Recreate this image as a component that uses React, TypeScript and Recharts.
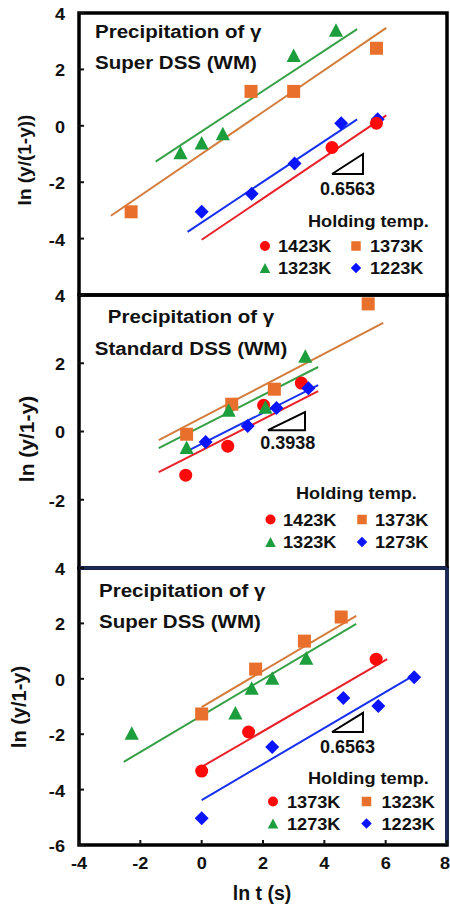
import React from 'react';
import { ScatterChart, Scatter, XAxis, YAxis, ReferenceArea, ReferenceLine } from 'recharts';

type Pt = { x: number; y: number };
type MarkerKind = 'circle' | 'square' | 'triangle' | 'diamond';

// ---------- axis ticks ----------
const X_DOMAIN: [number, number] = [-4, 8];
const xTicks = [-4, -2, 0, 2, 4, 6, 8];
const standardDssBottomTicks = [-2.27, -0.58, 1.15, 2.88, 4.61, 6.3];
const yTicksSuper = [-4, -2, 0, 2, 4];
const yTicksStandard = [-2, 0, 2, 4];
const yTicksSuperBottom = [-6, -4, -2, 0, 2, 4];

// ---------- text ----------
const panelTitles = [
  ['Precipitation of γ', 'Super DSS (WM)'],
  ['Precipitation of γ', 'Standard DSS (WM)'],
  ['Precipitation of γ', 'Super DSS (WM)'],
];
const yAxisTitles = ['ln (y/(1-y))', 'ln (y/1-y)', 'ln (y/1-y)'];
const xAxisTitle = 'ln t (s)';
const legendHeader = 'Holding temp.';
const legendTempsA = ['1423K', '1373K', '1323K', '1223K'];
const legendTempsB = ['1423K', '1373K', '1323K', '1273K'];
const legendTempsC = ['1373K', '1323K', '1273K', '1223K'];
const slopeTexts = ['0.6563', '0.3938', '0.6563'];

// ---------- Super DSS (WM), upper panel ----------
const a1423: Pt[] = [{ x: 4.25, y: -0.77 }, { x: 5.7, y: 0.09 }];
const a1373: Pt[] = [{ x: -2.3, y: -3.05 }, { x: 1.61, y: 1.22 }, { x: 3.0, y: 1.22 }, { x: 5.7, y: 2.75 }];
const a1323: Pt[] = [{ x: -0.69, y: -0.95 }, { x: 0, y: -0.6 }, { x: 0.69, y: -0.27 }, { x: 3.0, y: 2.5 }, { x: 4.38, y: 3.4 }];
const a1223: Pt[] = [{ x: 0, y: -3.05 }, { x: 1.63, y: -2.41 }, { x: 3.03, y: -1.34 }, { x: 4.55, y: 0.09 }, { x: 5.74, y: 0.23 }];
const aFit1423: Pt[] = [{ x: 0, y: -4.04 }, { x: 6.02, y: 0.37 }];
const aFit1373: Pt[] = [{ x: -2.96, y: -3.19 }, { x: 6.02, y: 3.47 }];
const aFit1323: Pt[] = [{ x: -1.5, y: -1.27 }, { x: 5.07, y: 3.43 }];
const aFit1223: Pt[] = [{ x: -0.46, y: -3.76 }, { x: 5.07, y: 0.23 }];
const aSlope: Pt[] = [{ x: 4.25, y: -1.71 }, { x: 5.26, y: -1.71 }, { x: 5.26, y: -1.0 }, { x: 4.25, y: -1.71 }];
const aSlopeLabel: Pt[] = [{ x: 4.755, y: -1.71 }];

// ---------- Standard DSS (WM), middle panel ----------
const b1423: Pt[] = [{ x: -0.52, y: -1.28 }, { x: 0.85, y: -0.43 }, { x: 2.02, y: 0.77 }, { x: 3.25, y: 1.42 }];
const b1373: Pt[] = [{ x: -0.49, y: -0.08 }, { x: 0.98, y: 0.8 }, { x: 2.37, y: 1.24 }, { x: 5.43, y: 3.74 }];
const b1323: Pt[] = [{ x: -0.49, y: -0.46 }, { x: 0.88, y: 0.63 }, { x: 2.08, y: 0.72 }, { x: 3.38, y: 2.21 }];
const b1273: Pt[] = [{ x: 0.13, y: -0.31 }, { x: 1.5, y: 0.16 }, { x: 2.44, y: 0.69 }, { x: 3.48, y: 1.27 }];
const bFit1423: Pt[] = [{ x: -1.4, y: -1.19 }, { x: 3.8, y: 1.18 }];
const bFit1373: Pt[] = [{ x: -1.4, y: -0.25 }, { x: 5.92, y: 3.18 }];
const bFit1323: Pt[] = [{ x: -1.4, y: -0.49 }, { x: 3.8, y: 1.89 }];
const bFit1273: Pt[] = [{ x: -0.52, y: -0.6 }, { x: 3.8, y: 1.36 }];
const bSlope: Pt[] = [{ x: 2.16, y: 0.04 }, { x: 3.37, y: 0.04 }, { x: 3.37, y: 0.57 }, { x: 2.16, y: 0.04 }];
const bSlopeLabel: Pt[] = [{ x: 2.81, y: 0.04 }];

// ---------- Super DSS (WM), lower panel ----------
const c1373: Pt[] = [{ x: 0, y: -3.33 }, { x: 1.53, y: -1.92 }, { x: 5.69, y: 0.71 }];
const c1323: Pt[] = [{ x: 0, y: -1.27 }, { x: 1.76, y: 0.35 }, { x: 3.35, y: 1.36 }, { x: 4.55, y: 2.23 }];
const c1273: Pt[] = [{ x: -2.28, y: -1.96 }, { x: 1.1, y: -1.23 }, { x: 1.63, y: -0.33 }, { x: 2.3, y: 0.03 }, { x: 3.41, y: 0.75 }];
const c1223: Pt[] = [{ x: 0, y: -5.03 }, { x: 2.3, y: -2.46 }, { x: 4.62, y: -0.69 }, { x: 5.76, y: -0.98 }, { x: 6.93, y: 0.06 }];
const cFit1373: Pt[] = [{ x: 0, y: -3.18 }, { x: 6.05, y: 0.71 }];
const cFit1323: Pt[] = [{ x: 0, y: -1.02 }, { x: 5.04, y: 2.27 }];
const cFit1273: Pt[] = [{ x: -2.54, y: -3.0 }, { x: 5.04, y: 1.98 }];
const cFit1223: Pt[] = [{ x: 0, y: -4.38 }, { x: 6.99, y: 0.17 }];
const cSlope: Pt[] = [{ x: 4.25, y: -1.92 }, { x: 5.26, y: -1.92 }, { x: 5.26, y: -1.23 }, { x: 4.25, y: -1.92 }];
const cSlopeLabel: Pt[] = [{ x: 4.755, y: -1.92 }];

// ---------- styling ----------
const FONT = '"Liberation Sans", Arial, Helvetica, sans-serif';
const INK = '#111';
const NAVY = '#1b2a58';
const RED = '#ff0a0a';
const ORANGE = '#e8702c';
const GREEN = '#1c9e3c';
const BLUE = '#0a14ff';
const RED_LINE = '#e82028';
const ORANGE_LINE = '#d47c3c';
const GREEN_LINE = '#35a046';
const BLUE_LINE = '#1630f0';
const STRETCH = 1.1;

function Glyph({ kind, cx, cy, s, color }: { kind: MarkerKind; cx: number; cy: number; s: number; color: string }) {
  const h = s / 2;
  if (kind === 'circle') return <circle cx={cx} cy={cy} r={h} fill={color} />;
  if (kind === 'square') return <rect x={cx - h} y={cy - h} width={s} height={s} fill={color} />;
  if (kind === 'triangle')
    return <polygon points={`${cx},${cy - h} ${cx + h * 1.05},${cy + h} ${cx - h * 1.05},${cy + h}`} fill={color} />;
  return <polygon points={`${cx},${cy - h} ${cx + h},${cy} ${cx},${cy + h} ${cx - h},${cy}`} fill={color} />;
}

const markerSize: Record<MarkerKind, number> = { circle: 13, square: 13, triangle: 13.5, diamond: 14 };

const NoDot = () => <g />;

function YTick(props: any) {
  const { x, y, payload } = props;
  return (
    <text transform={`translate(${x},${y + 1}) scale(${STRETCH},1)`} dy="0.36em" textAnchor="end"
      fontFamily={FONT} fontWeight="bold" fontSize={16.5} fill={INK}>
      {payload.value}
    </text>
  );
}

function XTick(props: any) {
  const { x, y, payload } = props;
  // the last label sits on the right edge of the page, so it is right-aligned there
  const atEdge = payload.value === X_DOMAIN[1];
  return (
    <text transform={`translate(${atEdge ? x + 3 : x},${y}) scale(${STRETCH},1)`}
      textAnchor={atEdge ? 'end' : 'middle'}
      fontFamily={FONT} fontWeight="bold" fontSize={16.5} fill={INK}>
      {payload.value}
    </text>
  );
}

type SeriesDef = { data: Pt[]; kind: MarkerKind; color: string };
type FitDef = { data: Pt[]; color: string };

type PanelProps = {
  top: number;
  height: number;
  marginTop: number;
  xAxisHeight: number;
  yDomain: [number, number];
  yTicks: number[];
  bottomTicks: number[];
  showXLabels: boolean;
  fits: FitDef[];
  series: SeriesDef[];
  slope: Pt[];
  slopeLabel: Pt[];
  slopeText: string;
  slopeOffset: number;
  navyFrame?: boolean;
};

function Panel(p: PanelProps) {
  return (
    <div style={{ position: 'absolute', left: 0, top: p.top }}>
      <ScatterChart width={450} height={p.height} margin={{ top: p.marginTop, right: 3, bottom: 0, left: 0 }}>
        <XAxis type="number" dataKey="x" domain={X_DOMAIN} ticks={p.bottomTicks} allowDataOverflow interval={0}
          height={p.xAxisHeight} axisLine={false} tickSize={-5} tickMargin={29}
          tickLine={{ stroke: INK, strokeWidth: 2 }}
          tick={p.showXLabels ? (t: any) => <XTick {...t} /> : false} />
        <YAxis type="number" dataKey="y" domain={p.yDomain} ticks={p.yTicks} allowDataOverflow interval={0}
          width={79} axisLine={false} tickSize={-5} tickMargin={19}
          tickLine={{ stroke: INK, strokeWidth: 2 }}
          tick={(t: any) => <YTick {...t} />} />
        <ReferenceArea x1={X_DOMAIN[0]} x2={X_DOMAIN[1]} y1={p.yDomain[0]} y2={p.yDomain[1]}
          fill="none" fillOpacity={0} stroke="#000" strokeWidth={3.5} ifOverflow="visible" />
        {p.navyFrame && (
          <ReferenceLine y={p.yDomain[1]} stroke={NAVY} strokeWidth={3.5} ifOverflow="visible" />
        )}
        {p.navyFrame && (
          <ReferenceLine x={X_DOMAIN[1]} stroke={NAVY} strokeWidth={3.5} ifOverflow="visible" />
        )}
        {p.fits.map((f, i) => (
          <Scatter key={`fit${i}`} data={f.data} line={{ stroke: f.color, strokeWidth: 2 }}
            shape={NoDot} isAnimationActive={false} />
        ))}
        <Scatter data={p.slope} line={{ stroke: '#000', strokeWidth: 2 }} shape={NoDot} isAnimationActive={false} />
        <Scatter data={p.slopeLabel} isAnimationActive={false}
          shape={(s: any) => (
            <text x={s.cx} y={s.cy + p.slopeOffset} textAnchor="middle" fontFamily={FONT}
              fontWeight="bold" fontSize={18} fill={INK}>
              {p.slopeText}
            </text>
          )} />
        {p.series.map((s, i) => (
          <Scatter key={`s${i}`} data={s.data} isAnimationActive={false}
            shape={(d: any) => <Glyph kind={s.kind} cx={d.cx} cy={d.cy} s={markerSize[s.kind]} color={s.color} />} />
        ))}
      </ScatterChart>
    </div>
  );
}

function T({ x, y, size, anchor = 'start', sx = STRETCH, children }: any) {
  return (
    <text transform={`translate(${x},${y}) scale(${sx},1)`} textAnchor={anchor} fontFamily={FONT}
      fontWeight="bold" fontSize={size} fill={INK}>
      {children}
    </text>
  );
}

type LegendPos = { hx: number; hy: number; rows: number[]; mx: number[]; tx: number[] };

function LegendBlock({ pos, labels }: { pos: LegendPos; labels: string[] }) {
  const kinds: MarkerKind[] = ['circle', 'square', 'triangle', 'diamond'];
  const colors = [RED, ORANGE, GREEN, BLUE];
  const sizes = [10, 9.5, 10, 10.5];
  return (
    <g>
      <T x={pos.hx} y={pos.hy} size={16.5}>{legendHeader}</T>
      {labels.map((lab, i) => {
        const row = Math.floor(i / 2);
        const col = i % 2;
        const base = pos.rows[row];
        return (
          <g key={lab + i}>
            <Glyph kind={kinds[i]} cx={pos.mx[col]} cy={base - 6} s={sizes[i]} color={colors[i]} />
            <T x={pos.tx[col]} y={base} size={16.5}>{lab}</T>
          </g>
        );
      })}
    </g>
  );
}

function Overlay() {
  return (
    <svg width={450} height={906} style={{ position: 'absolute', left: 0, top: 0, pointerEvents: 'none' }}>
      {/* panel titles */}
      <T x={95} y={38} size={19} sx={1.08}>{panelTitles[0][0]}</T>
      <T x={95} y={69} size={19} sx={1.08}>{panelTitles[0][1]}</T>
      <T x={191} y={323} size={19} sx={1.08} anchor="middle">{panelTitles[1][0]}</T>
      <T x={191} y={355} size={19} sx={1.08} anchor="middle">{panelTitles[1][1]}</T>
      <T x={99} y={597} size={19} sx={1.08}>{panelTitles[2][0]}</T>
      <T x={99} y={628} size={19} sx={1.08}>{panelTitles[2][1]}</T>

      {/* y-axis titles */}
      <text transform="translate(24,160) rotate(-90)" textAnchor="middle" dominantBaseline="central"
        fontFamily={FONT} fontWeight="bold" fontSize={19} fill={INK}>{yAxisTitles[0]}</text>
      <text transform="translate(26,439) rotate(-90)" textAnchor="middle" dominantBaseline="central"
        fontFamily={FONT} fontWeight="bold" fontSize={21} fill={INK}>{yAxisTitles[1]}</text>
      <text transform="translate(19,707) rotate(-90)" textAnchor="middle" dominantBaseline="central"
        fontFamily={FONT} fontWeight="bold" fontSize={20} fill={INK}>{yAxisTitles[2]}</text>

      {/* x-axis title */}
      <T x={262} y={900} size={19.5} sx={1} anchor="middle">{xAxisTitle}</T>

      {/* legends */}
      <LegendBlock labels={legendTempsA}
        pos={{ hx: 308, hy: 227, rows: [252, 274], mx: [265, 356], tx: [278, 370] }} />
      <LegendBlock labels={legendTempsB}
        pos={{ hx: 296, hy: 499, rows: [525.5, 548], mx: [270.5, 362], tx: [283, 375] }} />
      <LegendBlock labels={legendTempsC}
        pos={{ hx: 308, hy: 784, rows: [807.5, 829.5], mx: [273, 366.5], tx: [287, 381.5] }} />
    </svg>
  );
}

export default function App() {
  return (
    <div style={{ position: 'absolute', left: 0, top: 0, width: 450, height: 906, background: '#fff', overflow: 'hidden' }}>
      <Panel
        top={0} height={300} marginTop={13} xAxisHeight={5}
        yDomain={[-6, 4]} yTicks={yTicksSuper} bottomTicks={xTicks} showXLabels={false}
        fits={[
          { data: aFit1323, color: GREEN_LINE },
          { data: aFit1373, color: ORANGE_LINE },
          { data: aFit1223, color: BLUE_LINE },
          { data: aFit1423, color: RED_LINE },
        ]}
        series={[
          { data: a1373, kind: 'square', color: ORANGE },
          { data: a1323, kind: 'triangle', color: GREEN },
          { data: a1223, kind: 'diamond', color: BLUE },
          { data: a1423, kind: 'circle', color: RED },
        ]}
        slope={aSlope} slopeLabel={aSlopeLabel} slopeText={slopeTexts[0]} slopeOffset={21}
      />
      <Panel
        top={280} height={295} marginTop={15} xAxisHeight={7}
        yDomain={[-4, 4]} yTicks={yTicksStandard} bottomTicks={standardDssBottomTicks} showXLabels={false}
        fits={[
          { data: bFit1373, color: ORANGE_LINE },
          { data: bFit1323, color: GREEN_LINE },
          { data: bFit1273, color: BLUE_LINE },
          { data: bFit1423, color: RED_LINE },
        ]}
        series={[
          { data: b1423, kind: 'circle', color: RED },
          { data: b1373, kind: 'square', color: ORANGE },
          { data: b1323, kind: 'triangle', color: GREEN },
          { data: b1273, kind: 'diamond', color: BLUE },
        ]}
        slope={bSlope} slopeLabel={bSlopeLabel} slopeText={slopeTexts[1]} slopeOffset={19}
      />
      <Panel
        top={553} height={353} marginTop={15} xAxisHeight={61}
        yDomain={[-6, 4]} yTicks={yTicksSuperBottom} bottomTicks={xTicks} showXLabels={true}
        fits={[
          { data: cFit1323, color: ORANGE_LINE },
          { data: cFit1273, color: GREEN_LINE },
          { data: cFit1373, color: RED_LINE },
          { data: cFit1223, color: BLUE_LINE },
        ]}
        series={[
          { data: c1323, kind: 'square', color: ORANGE },
          { data: c1273, kind: 'triangle', color: GREEN },
          { data: c1373, kind: 'circle', color: RED },
          { data: c1223, kind: 'diamond', color: BLUE },
        ]}
        slope={cSlope} slopeLabel={cSlopeLabel} slopeText={slopeTexts[2]} slopeOffset={21}
        navyFrame
      />
      <Overlay />
    </div>
  );
}
